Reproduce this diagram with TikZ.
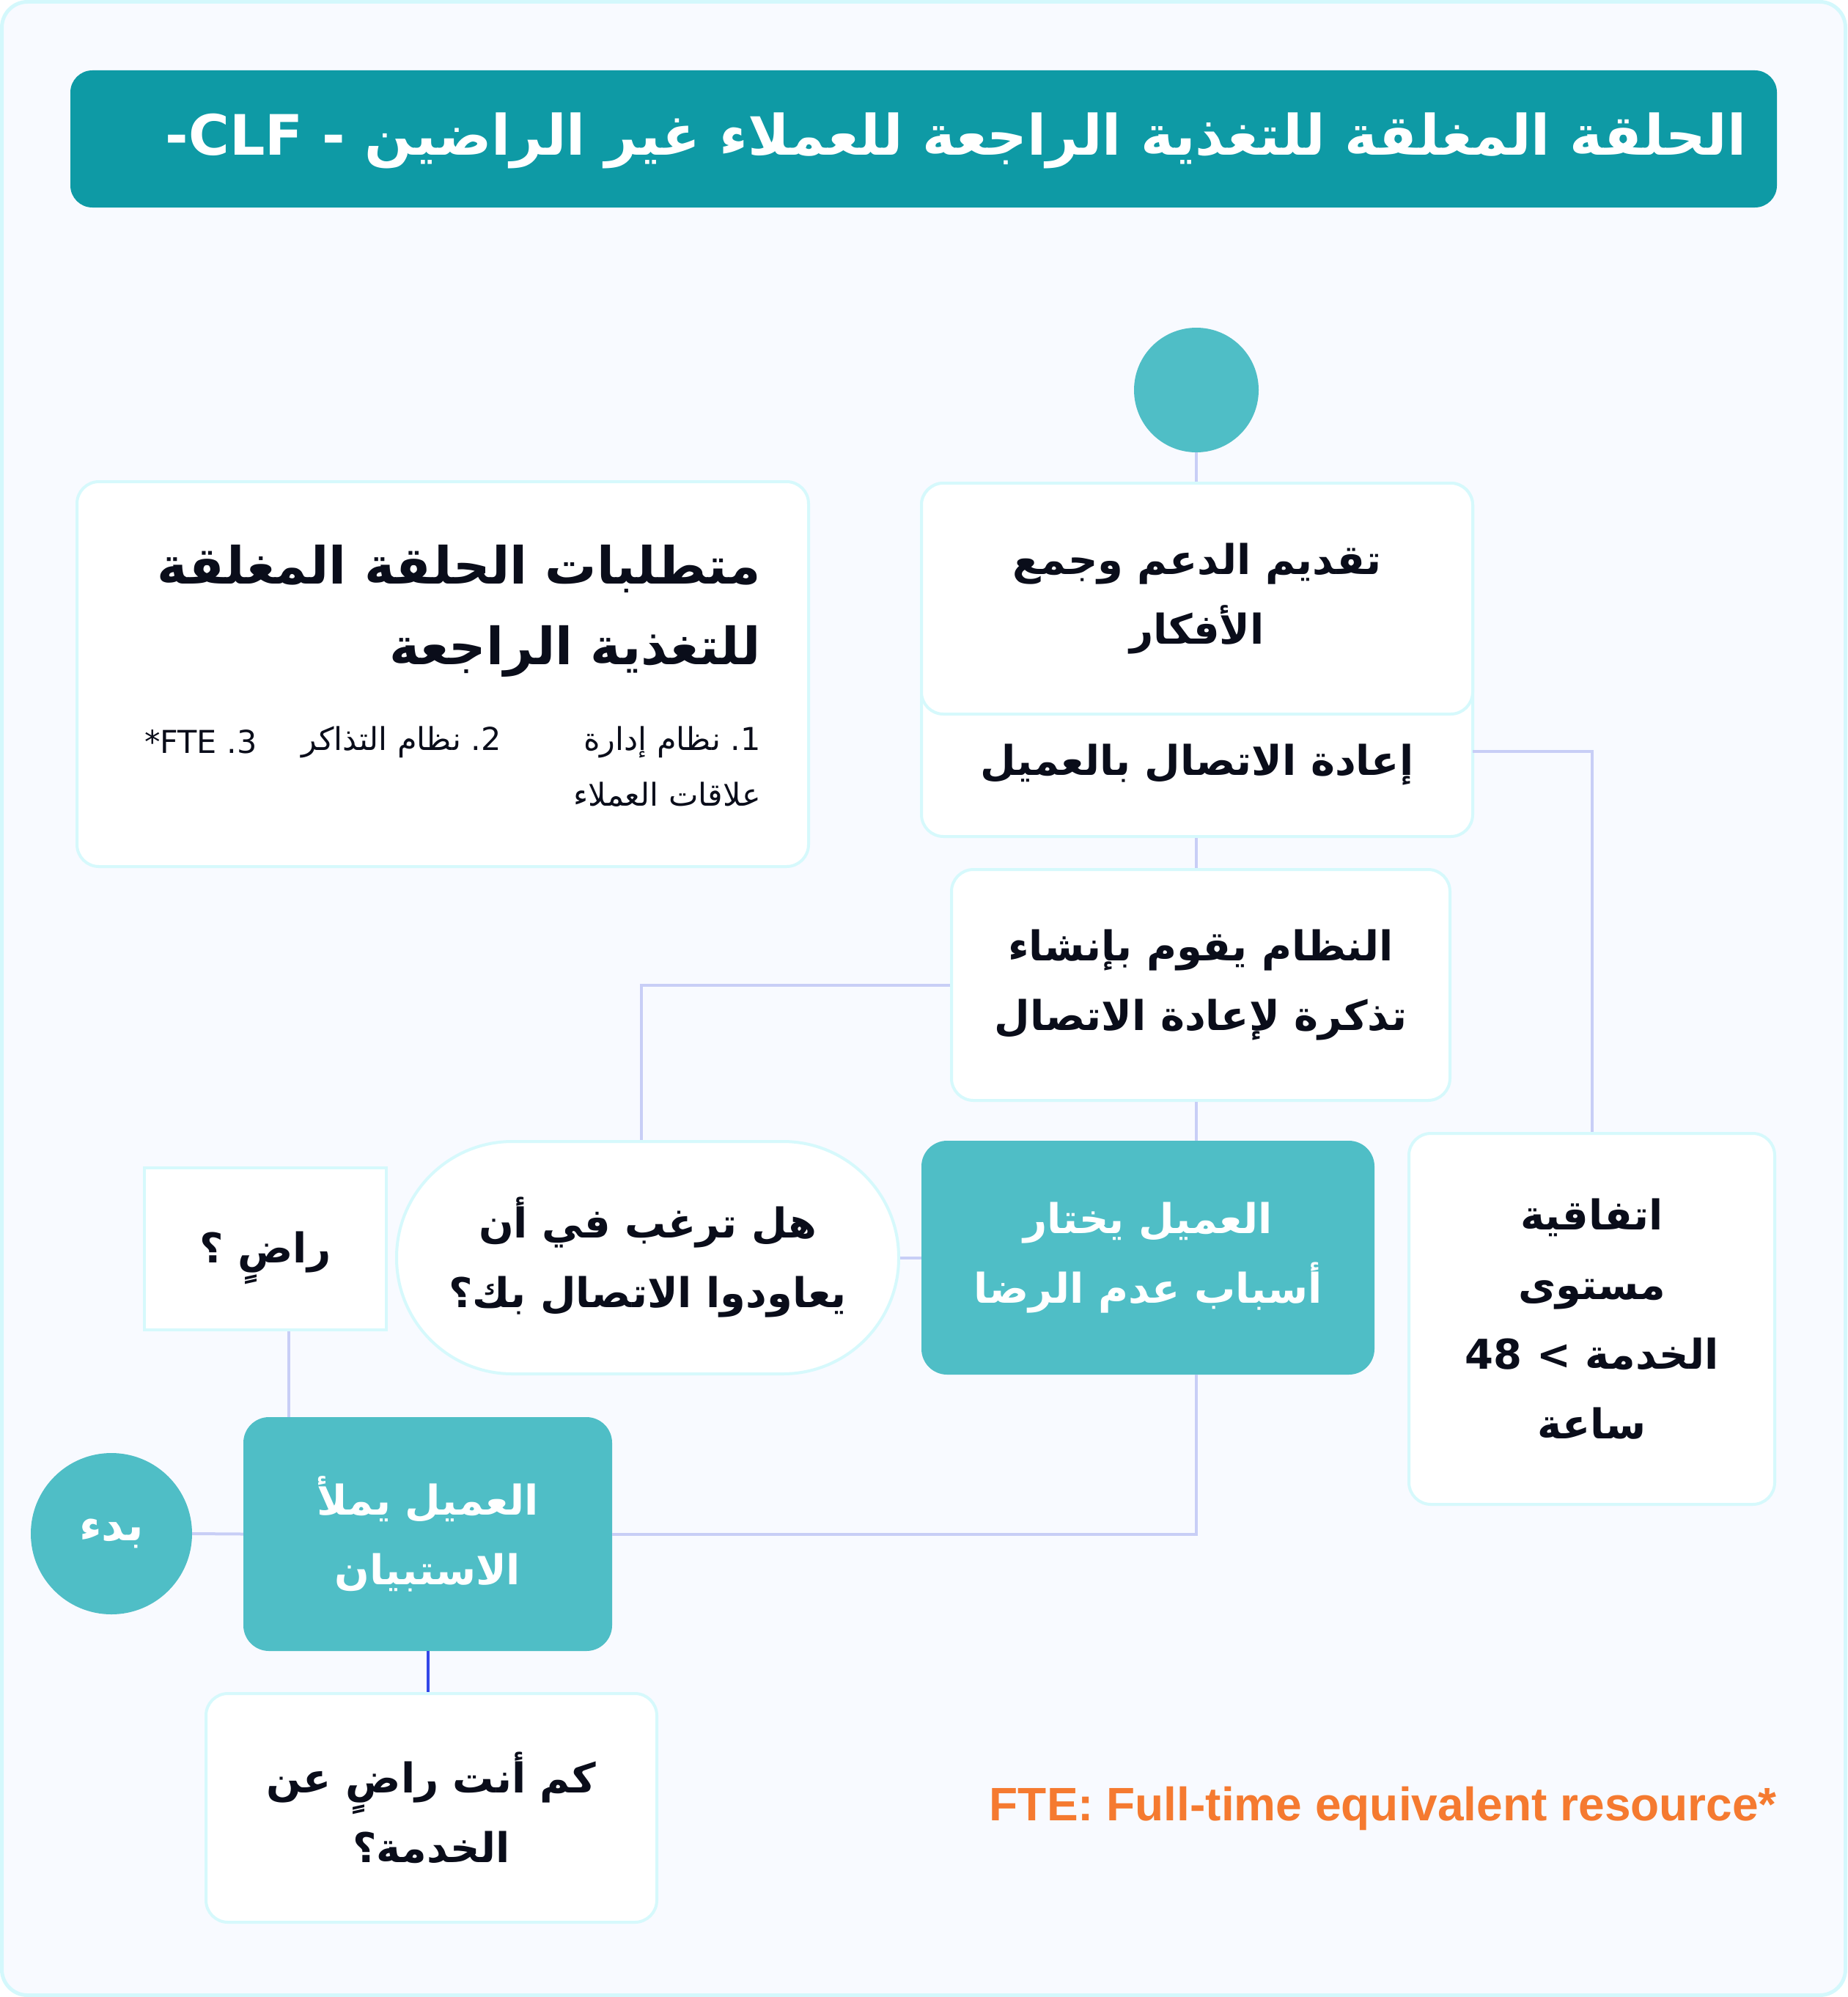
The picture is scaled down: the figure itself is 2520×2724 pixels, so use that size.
\documentclass[tikz,border=0pt]{standalone}
\usepackage{fontspec}
\setmainfont{Liberation Sans}
\newfontfamily\arabicfont[Script=Arabic]{DejaVu Sans}
\newfontfamily\latinfont{DejaVu Sans}
\TeXXeTstate=1
\newcommand\AR[1]{\beginR #1\endR}
\definecolor{bgc}{HTML}{F8FAFF}
\definecolor{framec}{HTML}{D4F8FC}
\definecolor{titlec}{HTML}{0E9AA5}
\definecolor{tealc}{HTML}{4FBEC6}
\definecolor{boxline}{HTML}{D6F9FC}
\definecolor{connc}{HTML}{C8CEF6}
\definecolor{bluec}{HTML}{3347E8}
\definecolor{inkc}{HTML}{0A0D1A}
\definecolor{orangec}{HTML}{F57A30}
\begin{document}
\begin{tikzpicture}[x=1pt,y=-1pt,
  wbox/.style={draw=boxline, line width=4pt, fill=white, rounded corners=30pt, inner sep=0pt},
  tbox/.style={fill=tealc, draw=none, rounded corners=35pt, inner sep=0pt},
  conn/.style={draw=connc, line width=4pt},
  bt/.style={text=inkc, font=\arabicfont\bfseries\fontsize{56}{95}\selectfont, align=center},
  wt/.style={text=white, font=\arabicfont\bfseries\fontsize{56}{95}\selectfont, align=center},
  st/.style={text=inkc, font=\arabicfont\fontsize{43}{72}\selectfont},
  bigt/.style={text=inkc, font=\arabicfont\bfseries\fontsize{70}{112}\selectfont}]
\useasboundingbox (0,0) rectangle (2520,2724);
\draw[fill=bgc, draw=framec, line width=5pt, rounded corners=35pt] (2.5,2.5) rectangle (2517.5,2721.5);

% title
\node[fill=titlec, rounded corners=30pt, minimum width=2328pt, minimum height=187pt, inner sep=0pt] (title) at (1260,189.5) {};
\node[anchor=east, text=white, font=\arabicfont\bfseries\fontsize{76}{100}\selectfont, inner sep=0pt] (titletext) at (2383,192)
  {{\latinfont\bfseries -CLF - }\AR{الحلقة المغلقة للتغذية الراجعة للعملاء غير الراضين}};

% requirements box
\node[wbox, minimum width=998pt, minimum height=525pt] (req) at (604,919.5) {};
\node[bigt, anchor=east, inner sep=0pt] (req1) at (1038,776) {\AR{متطلبات الحلقة المغلقة}};
\node[bigt, anchor=east, inner sep=0pt] (req2) at (1038,888) {\AR{للتغذية الراجعة}};
\node[st, anchor=east, inner sep=0pt] (it1) at (1038,1012) {\AR{نظام إدارة}{\latinfont\ .1}};
\node[st, anchor=east, inner sep=0pt] (it1b) at (1038,1084) {\AR{علاقات العملاء}};
\node[st, anchor=east, inner sep=0pt] (it2) at (684,1012) {\AR{نظام التذاكر}{\latinfont\ .2}};
\node[st, anchor=east, inner sep=0pt] (it3) at (351,1012) {\latinfont *FTE .3};

% top circle
\node[circle, fill=tealc, minimum size=170pt, inner sep=0pt] (top) at (1632,532) {};

% box 2 (two parts)
\node[wbox, minimum width=752pt, minimum height=482pt] (box2) at (1633,900) {};
\node[wbox, bt, minimum width=752pt, minimum height=315pt] (box2up) at (1633,816.5)
  {\AR{تقديم الدعم وجمع}\\\AR{الأفكار}};
\node[bt, inner sep=0pt] (box2low) at (1633,1043) {\AR{إعادة الاتصال بالعميل}};

% box 3
\node[wbox, bt, minimum width=680pt, minimum height=315pt] (box3) at (1638,1343.5)
  {\AR{النظام يقوم بإنشاء}\\\AR{تذكرة لإعادة الاتصال}};

% SLA
\node[wbox, bt, minimum width=499pt, minimum height=506pt] (sla) at (2171.5,1799)
  {\AR{اتفاقية}\\\AR{مستوى}\\{\latinfont\bfseries 48 <} \AR{الخدمة}\\\AR{ساعة}};

% teal 1
\node[tbox, wt, minimum width=618pt, minimum height=319pt] (teal1) at (1566,1715.5)
  {\AR{العميل يختار}\\\AR{أسباب عدم الرضا}};

% oval
\node[draw=boxline, line width=4pt, fill=white, rounded corners=158pt, inner sep=0pt, bt,
  minimum width=685pt, minimum height=317pt] (oval) at (883.5,1715.5)
  {\AR{هل ترغب في أن}\\\AR{يعاودوا الاتصال بك؟}};

% radi box
\node[draw=boxline, line width=4pt, fill=white, inner sep=0pt,
  minimum width=330pt, minimum height=221pt] (radi) at (362,1703.5) {};
\node[bt, inner sep=0pt] (raditext) at (362,1716) {\AR{راضٍ ؟}};

% teal 2
\node[tbox, wt, minimum width=503pt, minimum height=319pt] (teal2) at (583.5,2092.5)
  {\AR{العميل يملأ}\\\AR{الاستبيان}};

% start circle
\node[circle, fill=tealc, minimum size=220pt, inner sep=0pt, wt, font=\arabicfont\bfseries\fontsize{60}{95}\selectfont] (start) at (152,2092) {\AR{بدء}};

% kam box
\node[wbox, bt, minimum width=615pt, minimum height=312pt] (kam) at (588.5,2466)
  {\AR{كم أنت راضٍ عن}\\\AR{الخدمة؟}};

% footnote
\node[anchor=east, inner sep=0pt, text=orangec, font=\bfseries\fontsize{64}{70}\selectfont] (fn) at (2424,2467)
  {FTE: Full-time equivalent resource*};

% connectors
\coordinate (b2r) at (2009,1025);
\draw[conn] (top.south) -- (top.south |- box2.north);
\draw[conn] (top.south |- box2.south) -- (top.south |- box3.north);
\draw[conn] (b2r) -| (sla.north);
\draw[conn] (box3.west) -| ([xshift=-9pt]oval.north);
\draw[conn] (top.south |- box3.south) -- (top.south |- teal1.north);
\draw[conn] (teal1.west) -- (oval.east);
\draw[conn] (top.south |- teal1.south) |- (teal2.east);
\draw[conn] ([xshift=32pt]radi.south) -- ([xshift=32pt]radi.south |- teal2.north);
\draw[conn] (start.east) -- (teal2.west);
\draw[draw=bluec, line width=4pt] (teal2.south) -- (teal2.south |- kam.north);
\end{tikzpicture}
\end{document}
